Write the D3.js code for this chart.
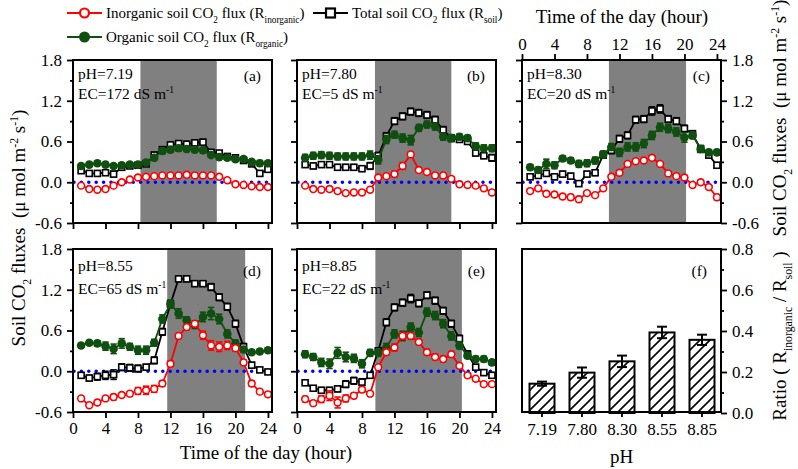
<!DOCTYPE html>
<html><head><meta charset="utf-8">
<script src="https://cdn.jsdelivr.net/npm/d3@7"></script>
<style>
body{margin:0;background:#fff}
svg{display:block}
text{font-family:"Liberation Serif","Times New Roman",serif;fill:#000}
</style>
</head><body>
<svg id="chart" width="798" height="469"></svg>
<script>
// ---------------- DATA ----------------
const hours = [1,2,3,4,5,6,7,8,9,10,11,12,13,14,15,16,17,18,19,20,21,22,23,24];
const xTicks = [0,4,8,12,16,20,24];
const yTicks = [-0.6,0.0,0.6,1.2,1.8];
const yMinor = [-0.3,0.3,0.9,1.5];
const phLabels = ["7.19","7.80","8.30","8.55","8.85"];
const ecLabels = ["172","5","20","65","22"];
const panelLetters = ["(a)","(b)","(c)","(d)","(e)","(f)"];
const lightStart = [8.3, 9.6, 10.7, 11.6, 9.65];
const lightEnd   = [17.7, 19.0, 20.2, 21.2, 20.3];

// panel (a) pH 7.19
const inorgA = [-0.05,-0.10,-0.11,-0.10,-0.05,0.00,0.04,0.07,0.08,0.09,0.10,0.10,0.10,0.11,0.10,0.10,0.10,0.08,0.03,-0.03,-0.04,-0.06,-0.07,-0.07];
const totalA = [0.17,0.13,0.13,0.14,0.12,0.22,0.24,0.25,0.27,0.40,0.48,0.55,0.57,0.56,0.58,0.59,0.44,0.43,0.38,0.36,0.32,0.27,0.13,0.19];
const orgA   = [0.24,0.26,0.28,0.26,0.24,0.25,0.26,0.26,0.29,0.36,0.46,0.48,0.50,0.49,0.48,0.47,0.40,0.37,0.36,0.34,0.34,0.30,0.28,0.28];
const eInorgA = [0.02,0.02,0.02,0.02,0.02,0.02,0.02,0.02,0.02,0.02,0.02,0.03,0.03,0.03,0.03,0.02,0.02,0.02,0.02,0.02,0.02,0.02,0.02,0.02];
const eTotalA = [0.03,0.03,0.03,0.03,0.04,0.03,0.03,0.03,0.03,0.04,0.04,0.04,0.04,0.04,0.04,0.04,0.04,0.03,0.03,0.03,0.03,0.03,0.04,0.03];
const eOrgA   = [0.03,0.03,0.03,0.03,0.03,0.03,0.03,0.03,0.03,0.04,0.04,0.04,0.04,0.04,0.04,0.04,0.03,0.03,0.03,0.03,0.03,0.03,0.04,0.03];

// panel (b) pH 7.80
const inorgB = [-0.05,-0.10,-0.11,-0.10,-0.13,-0.16,-0.15,-0.15,-0.11,0.07,0.09,0.12,0.24,0.41,0.18,0.15,0.10,0.10,0.05,-0.03,-0.04,-0.05,-0.09,-0.15];
const totalB = [0.26,0.24,0.26,0.26,0.22,0.22,0.22,0.20,0.24,0.39,0.68,0.90,0.97,1.04,1.02,0.99,0.92,0.77,0.65,0.63,0.60,0.43,0.39,0.36];
const orgB   = [0.36,0.39,0.40,0.39,0.38,0.38,0.38,0.38,0.40,0.33,0.63,0.70,0.65,0.62,0.80,0.85,0.82,0.67,0.65,0.67,0.65,0.53,0.50,0.50];
const eInorgB = [0.02,0.03,0.03,0.03,0.03,0.03,0.03,0.03,0.03,0.03,0.03,0.04,0.05,0.04,0.03,0.03,0.03,0.03,0.03,0.03,0.03,0.03,0.03,0.03];
const eTotalB = [0.04,0.04,0.04,0.04,0.04,0.04,0.04,0.04,0.05,0.05,0.05,0.05,0.05,0.05,0.05,0.05,0.05,0.05,0.05,0.04,0.04,0.04,0.04,0.05];
const eOrgB   = [0.05,0.05,0.05,0.05,0.05,0.05,0.05,0.05,0.06,0.06,0.06,0.05,0.06,0.07,0.05,0.05,0.05,0.05,0.05,0.04,0.04,0.05,0.05,0.05];

// panel (c) pH 8.30
const inorgC = [-0.13,-0.09,-0.17,-0.18,-0.21,-0.22,-0.25,-0.16,-0.19,-0.09,0.08,0.14,0.27,0.31,0.32,0.36,0.27,0.13,0.09,0.07,-0.04,0.00,-0.07,-0.22];
const totalC = [0.08,0.10,0.13,0.08,0.12,0.09,-0.02,0.12,0.14,0.40,0.47,0.64,0.69,0.92,0.93,1.05,1.08,0.93,0.90,0.79,0.71,0.49,0.40,0.25];
const orgC   = [0.22,0.18,0.27,0.25,0.35,0.32,0.27,0.28,0.32,0.41,0.52,0.44,0.52,0.52,0.57,0.69,0.81,0.79,0.74,0.66,0.69,0.49,0.44,0.44];
const eInorgC = [0.03,0.03,0.03,0.03,0.03,0.04,0.04,0.03,0.03,0.03,0.03,0.03,0.03,0.03,0.03,0.03,0.03,0.03,0.03,0.03,0.03,0.03,0.03,0.04];
const eTotalC = [0.04,0.04,0.04,0.04,0.04,0.04,0.04,0.04,0.04,0.04,0.05,0.05,0.05,0.05,0.05,0.06,0.06,0.05,0.05,0.05,0.05,0.05,0.04,0.04];
const eOrgC   = [0.04,0.04,0.07,0.05,0.04,0.04,0.05,0.05,0.05,0.05,0.05,0.06,0.06,0.06,0.06,0.06,0.06,0.06,0.06,0.07,0.05,0.05,0.04,0.04];

// panel (d) pH 8.55
const inorgD = [-0.40,-0.50,-0.46,-0.40,-0.38,-0.35,-0.33,-0.29,-0.28,-0.26,-0.18,0.11,0.52,0.65,0.70,0.53,0.38,0.36,0.38,0.34,0.13,-0.18,-0.30,-0.34];
const totalD = [-0.06,-0.10,-0.08,-0.06,-0.05,0.06,0.05,0.04,0.06,0.16,0.58,0.99,1.36,1.36,1.29,1.29,1.24,1.09,0.95,0.70,0.36,0.09,0.02,-0.01];
const orgD   = [0.38,0.42,0.41,0.37,0.33,0.41,0.36,0.31,0.31,0.42,0.77,0.99,0.85,0.75,0.68,0.80,0.85,0.77,0.55,0.41,0.32,0.28,0.29,0.31];
const eInorgD = [0.02,0.02,0.03,0.03,0.04,0.03,0.03,0.05,0.06,0.05,0.04,0.04,0.04,0.04,0.04,0.06,0.07,0.07,0.06,0.04,0.04,0.04,0.03,0.03];
const eTotalD = [0.04,0.04,0.05,0.06,0.07,0.05,0.05,0.05,0.04,0.05,0.05,0.05,0.04,0.04,0.04,0.04,0.05,0.05,0.05,0.05,0.05,0.04,0.03,0.03];
const eOrgD   = [0.03,0.03,0.04,0.06,0.07,0.07,0.05,0.06,0.06,0.05,0.06,0.06,0.07,0.05,0.05,0.07,0.09,0.07,0.06,0.05,0.04,0.03,0.03,0.03];

// panel (e) pH 8.85
const inorgE = [-0.41,-0.47,-0.41,-0.36,-0.46,-0.40,-0.36,-0.27,-0.33,0.06,0.28,0.35,0.52,0.52,0.43,0.28,0.21,0.18,0.25,0.08,-0.06,-0.11,-0.19,-0.19];
const totalE = [-0.17,-0.25,-0.28,-0.28,-0.26,-0.19,-0.14,-0.16,-0.06,0.30,0.72,0.94,1.01,1.07,1.00,1.12,1.04,0.89,0.70,0.48,0.25,0.06,-0.02,-0.06];
const orgE   = [0.25,0.21,0.13,0.11,0.27,0.21,0.19,0.11,0.27,0.27,0.35,0.55,0.52,0.65,0.57,0.87,0.82,0.70,0.52,0.38,0.23,0.18,0.18,0.13];
const eInorgE = [0.04,0.03,0.05,0.07,0.08,0.05,0.04,0.04,0.03,0.03,0.04,0.05,0.05,0.05,0.04,0.04,0.04,0.04,0.04,0.03,0.03,0.03,0.03,0.03];
const eTotalE = [0.03,0.03,0.04,0.04,0.04,0.05,0.05,0.05,0.04,0.04,0.05,0.05,0.05,0.06,0.05,0.05,0.05,0.05,0.05,0.05,0.05,0.04,0.04,0.04];
const eOrgE   = [0.05,0.05,0.06,0.07,0.08,0.07,0.06,0.06,0.05,0.05,0.06,0.06,0.07,0.06,0.06,0.06,0.06,0.06,0.06,0.05,0.04,0.04,0.04,0.04];

// panel (f) ratio
const ratio = [0.143,0.197,0.252,0.393,0.357];
const ratioErr = [0.010,0.025,0.028,0.028,0.025];
const ratioTicks = [0.0,0.2,0.4,0.6,0.8];
const ratioMinor = [0.1,0.3,0.5,0.7];

// ---------------- LAYOUT ----------------
const svg = d3.select("#chart");
const PW = 199, PH = 163;
const colX = [73, 297, 522];
const rowY = [60, 249];
const RED = "#ff0000", GREEN = "#0f4f0f", BLACK = "#000000", BLUE = "#0000ff", SHADE = "#808080";

const panels = [
  {col:0,row:0, inorg:inorgA,total:totalA,org:orgA, ei:eInorgA,et:eTotalA,eo:eOrgA, leftLab:true, bottomLab:false, bottomTicks:true, top:false, right:false},
  {col:1,row:0, inorg:inorgB,total:totalB,org:orgB, ei:eInorgB,et:eTotalB,eo:eOrgB, leftLab:false,bottomLab:false, bottomTicks:true, top:false, right:false},
  {col:2,row:0, inorg:inorgC,total:totalC,org:orgC, ei:eInorgC,et:eTotalC,eo:eOrgC, leftLab:false,bottomLab:false, bottomTicks:false,top:true,  right:true},
  {col:0,row:1, inorg:inorgD,total:totalD,org:orgD, ei:eInorgD,et:eTotalD,eo:eOrgD, leftLab:true, bottomLab:true,  bottomTicks:true, top:false, right:false},
  {col:1,row:1, inorg:inorgE,total:totalE,org:orgE, ei:eInorgE,et:eTotalE,eo:eOrgE, leftLab:false,bottomLab:true,  bottomTicks:true, top:false, right:false}
];

const FONT = '"Liberation Serif","Times New Roman",serif';

// rich text helper: parts = [[text, mode]] mode: 0 normal, 1 sub, 2 sup
function richText(g, parts, size, attrs) {
  const t = g.append("text").attr("font-size", size).attr("font-family", FONT);
  Object.entries(attrs || {}).forEach(([k, v]) => t.attr(k, v));
  let shift = 0;
  parts.forEach(([s, mode]) => {
    const target = mode === 1 ? size * 0.3 : mode === 2 ? -size * 0.38 : 0;
    const ts = t.append("tspan").text(s).attr("dy", target - shift);
    if (mode) ts.attr("font-size", size * 0.62);
    shift = target;
  });
  return t;
}

function styleAxis(g, fs) {
  g.select(".domain").remove();
  g.selectAll(".tick line").attr("stroke", "#000").attr("stroke-width", 1.8);
  g.selectAll(".tick text").attr("font-family", FONT).attr("font-size", fs).attr("fill", "#000");
}

const fmt = d => d.toFixed(1);

panels.forEach((p, i) => {
  const x0 = colX[p.col], y0 = rowY[p.row];
  const x = d3.scaleLinear().domain([0, 24.5]).range([x0, x0 + PW]);
  const y = d3.scaleLinear().domain([-0.6, 1.8]).range([y0 + PH, y0]);
  const g = svg.append("g");

  // light shading
  g.append("rect")
    .attr("x", x(lightStart[i])).attr("y", y0)
    .attr("width", x(lightEnd[i]) - x(lightStart[i])).attr("height", PH)
    .attr("fill", SHADE);

  // zero line
  g.append("line")
    .attr("x1", x(0) + 1).attr("x2", x(24.5)).attr("y1", y(0)).attr("y2", y(0))
    .attr("stroke", BLUE).attr("stroke-width", 3.6)
    .attr("stroke-linecap", "round").attr("stroke-dasharray", "0,7.4");

  const series = [
    {vals: p.total, err: p.et, color: BLACK, marker: "square"},
    {vals: p.org, err: p.eo, color: GREEN, marker: "dot"},
    {vals: p.inorg, err: p.ei, color: RED, marker: "circle"}
  ];
  series.forEach(s => {
    const data = hours.map((h, k) => ({h, v: s.vals[k], e: s.err[k]}));
    const sg = g.append("g");
    // error bars
    const eb = sg.selectAll(".eb").data(data).enter().append("g");
    eb.append("line").attr("x1", d => x(d.h)).attr("x2", d => x(d.h))
      .attr("y1", d => y(d.v - d.e)).attr("y2", d => y(d.v + d.e))
      .attr("stroke", s.color).attr("stroke-width", 1.6);
    [1, -1].forEach(sg2 => {
      eb.append("line").attr("x1", d => x(d.h) - 3.2).attr("x2", d => x(d.h) + 3.2)
        .attr("y1", d => y(d.v + sg2 * d.e)).attr("y2", d => y(d.v + sg2 * d.e))
        .attr("stroke", s.color).attr("stroke-width", 1.6);
    });
    // line
    sg.append("path").datum(data)
      .attr("d", d3.line().x(d => x(d.h)).y(d => y(d.v)))
      .attr("fill", "none").attr("stroke", s.color).attr("stroke-width", 1.8);
    // markers
    if (s.marker === "square") {
      sg.selectAll(".m").data(data).enter().append("rect")
        .attr("x", d => x(d.h) - 3).attr("y", d => y(d.v) - 3)
        .attr("width", 6).attr("height", 6)
        .attr("fill", "#fff").attr("stroke", s.color).attr("stroke-width", 1.6);
    } else if (s.marker === "dot") {
      sg.selectAll(".m").data(data).enter().append("circle")
        .attr("cx", d => x(d.h)).attr("cy", d => y(d.v)).attr("r", 4.3)
        .attr("fill", s.color);
    } else {
      sg.selectAll(".m").data(data).enter().append("circle")
        .attr("cx", d => x(d.h)).attr("cy", d => y(d.v)).attr("r", 3.4)
        .attr("fill", "#fff").attr("stroke", s.color).attr("stroke-width", 1.6);
    }
  });

  // axes
  const la = g.append("g").attr("transform", `translate(${x0},0)`)
    .call(d3.axisLeft(y).tickValues(yTicks).tickSize(6).tickPadding(5).tickFormat(p.leftLab ? fmt : ""));
  styleAxis(la, 17);
  const lm = g.append("g").attr("transform", `translate(${x0},0)`)
    .call(d3.axisLeft(y).tickValues(yMinor).tickSize(3).tickFormat(""));
  styleAxis(lm, 17);
  if (p.right) {
    const ra = g.append("g").attr("transform", `translate(${x0 + PW},0)`)
      .call(d3.axisRight(y).tickValues(yTicks).tickSize(6).tickPadding(5).tickFormat(fmt));
    styleAxis(ra, 17);
    const rm = g.append("g").attr("transform", `translate(${x0 + PW},0)`)
      .call(d3.axisRight(y).tickValues(yMinor).tickSize(3).tickFormat(""));
    styleAxis(rm, 17);
  }
  if (p.bottomTicks) {
    const ba = g.append("g").attr("transform", `translate(0,${y0 + PH})`)
      .call(d3.axisBottom(x).tickValues(xTicks).tickSize(6).tickPadding(4).tickFormat(p.bottomLab ? d3.format("d") : ""));
    styleAxis(ba, 17);
  }
  if (p.top) {
    const ta = g.append("g").attr("transform", `translate(0,${y0})`)
      .call(d3.axisTop(x).tickValues(xTicks).tickSize(6).tickPadding(4).tickFormat(d3.format("d")));
    styleAxis(ta, 17);
  }

  // frame
  g.append("rect").attr("x", x0).attr("y", y0).attr("width", PW).attr("height", PH)
    .attr("fill", "none").attr("stroke", "#000").attr("stroke-width", 2);

  // annotations
  const phOff = p.row === 0 ? 19 : 22, ecOff = p.row === 0 ? 39 : 45;
  g.append("text").attr("x", x0 + 5).attr("y", y0 + phOff).attr("font-size", 15.5)
    .attr("font-family", FONT).text("pH=" + phLabels[i]);
  richText(g, [["EC=" + ecLabels[i] + " dS m", 0], ["-1", 2]], 15.5, {x: x0 + 5, y: y0 + ecOff});
  g.append("text").attr("x", x0 + 188).attr("y", y0 + (p.row === 0 ? 21 : 27))
    .attr("text-anchor", "end").attr("font-size", 15.5).attr("font-family", FONT)
    .text(panelLetters[i]);
});

// ---------------- PANEL (f) ----------------
(function () {
  const x0 = colX[2], y0 = rowY[1];
  const x = d3.scaleBand().domain(phLabels).range([x0, x0 + PW + 1]).paddingInner(0.375).paddingOuter(0.1875);
  const y = d3.scaleLinear().domain([0, 0.8]).range([y0 + PH + 1, y0]);
  const g = svg.append("g");
  const defs = svg.append("defs");
  const pat = defs.append("pattern").attr("id", "hatch").attr("patternUnits", "userSpaceOnUse")
    .attr("width", 10).attr("height", 10);
  pat.append("rect").attr("width", 10).attr("height", 10).attr("fill", "#fff");
  pat.append("path").attr("d", "M-1,11 L11,-1 M-6,6 L6,-6 M4,16 L16,4")
    .attr("stroke", "#000").attr("stroke-width", 1.6);

  g.selectAll(".bar").data(phLabels).enter().append("rect")
    .attr("x", d => x(d)).attr("y", (d, k) => y(ratio[k]))
    .attr("width", x.bandwidth()).attr("height", (d, k) => y(0) - y(ratio[k]))
    .attr("fill", "url(#hatch)").attr("stroke", "#000").attr("stroke-width", 2);
  // error bars
  const eb = g.selectAll(".eb").data(phLabels).enter().append("g");
  eb.append("line").attr("x1", d => x(d) + x.bandwidth() / 2).attr("x2", d => x(d) + x.bandwidth() / 2)
    .attr("y1", (d, k) => y(ratio[k] - ratioErr[k])).attr("y2", (d, k) => y(ratio[k] + ratioErr[k]))
    .attr("stroke", "#000").attr("stroke-width", 2);
  [1, -1].forEach(sg => {
    eb.append("line").attr("x1", d => x(d) + x.bandwidth() / 2 - 5).attr("x2", d => x(d) + x.bandwidth() / 2 + 5)
      .attr("y1", (d, k) => y(ratio[k] + sg * ratioErr[k])).attr("y2", (d, k) => y(ratio[k] + sg * ratioErr[k]))
      .attr("stroke", "#000").attr("stroke-width", 2);
  });

  const ra = g.append("g").attr("transform", `translate(${x0 + PW},0)`)
    .call(d3.axisRight(y).tickValues(ratioTicks).tickSize(6).tickPadding(5).tickFormat(fmt));
  styleAxis(ra, 17);
  const rm = g.append("g").attr("transform", `translate(${x0 + PW},0)`)
    .call(d3.axisRight(y).tickValues(ratioMinor).tickSize(3).tickFormat(""));
  styleAxis(rm, 17);
  const ba = g.append("g").attr("transform", `translate(0,${y0 + PH})`)
    .call(d3.axisBottom(x).tickSize(5).tickPadding(6));
  styleAxis(ba, 17);

  g.append("rect").attr("x", x0).attr("y", y0).attr("width", PW).attr("height", PH)
    .attr("fill", "none").attr("stroke", "#000").attr("stroke-width", 2);
  g.append("text").attr("x", x0 + 185).attr("y", y0 + 27).attr("text-anchor", "end")
    .attr("font-size", 15.5).attr("font-family", FONT).text(panelLetters[5]);
  g.append("text").attr("x", x0 + PW / 2).attr("y", 463).attr("text-anchor", "middle")
    .attr("font-size", 19).attr("font-family", FONT).text("pH");
})();

// ---------------- AXIS TITLES ----------------
svg.append("text").attr("x", 622).attr("y", 23).attr("text-anchor", "middle")
  .attr("font-size", 19).attr("font-family", FONT).text("Time of the day (hour)");
svg.append("text").attr("x", 266).attr("y", 459).attr("text-anchor", "middle")
  .attr("font-size", 19).attr("font-family", FONT).text("Time of the day (hour)");

const fluxParts = [["Soil CO", 0], ["2", 1], [" fluxes  (\u03bc mol m", 0], ["-2", 2], [" s", 0], ["-1", 2], [")", 0]];
richText(svg, fluxParts, 19, {transform: "translate(25,228) rotate(-90)", "text-anchor": "middle", "xml:space": "preserve"});
richText(svg, fluxParts, 19, {transform: "translate(786,118) rotate(-90)", "text-anchor": "middle", "xml:space": "preserve"});
richText(svg, [["Ratio ( R", 0], ["inorganic", 1], [" / R", 0], ["soil", 1], [" )", 0]], 19,
  {transform: "translate(786,336) rotate(-90)", "text-anchor": "middle"});

// ---------------- LEGEND ----------------
(function () {
  const lg = svg.append("g");
  const items = [
    {x: 67, y: 13, color: RED, marker: "circle", parts: [["Inorganic soil CO", 0], ["2", 1], [" flux (R", 0], ["inorganic", 1], [")", 0]]},
    {x: 313, y: 13, color: BLACK, marker: "square", parts: [["Total soil CO", 0], ["2", 1], [" flux (R", 0], ["soil", 1], [")", 0]]},
    {x: 67, y: 37, color: GREEN, marker: "dot", parts: [["Organic soil CO", 0], ["2", 1], [" flux (R", 0], ["organic", 1], [")", 0]]}
  ];
  items.forEach(it => {
    lg.append("line").attr("x1", it.x).attr("x2", it.x + 35).attr("y1", it.y).attr("y2", it.y)
      .attr("stroke", it.color).attr("stroke-width", 2);
    const cx = it.x + 17.5;
    if (it.marker === "circle") {
      lg.append("circle").attr("cx", cx).attr("cy", it.y).attr("r", 4.5)
        .attr("fill", "#fff").attr("stroke", it.color).attr("stroke-width", 2.2);
    } else if (it.marker === "square") {
      lg.append("rect").attr("x", cx - 4.5).attr("y", it.y - 4.5).attr("width", 9).attr("height", 9)
        .attr("fill", "#fff").attr("stroke", it.color).attr("stroke-width", 2.2);
    } else {
      lg.append("circle").attr("cx", cx).attr("cy", it.y).attr("r", 5.5).attr("fill", it.color);
    }
    richText(lg, it.parts, 15, {x: it.x + 39, y: it.y + 5});
  });
})();
</script>
</body></html>
